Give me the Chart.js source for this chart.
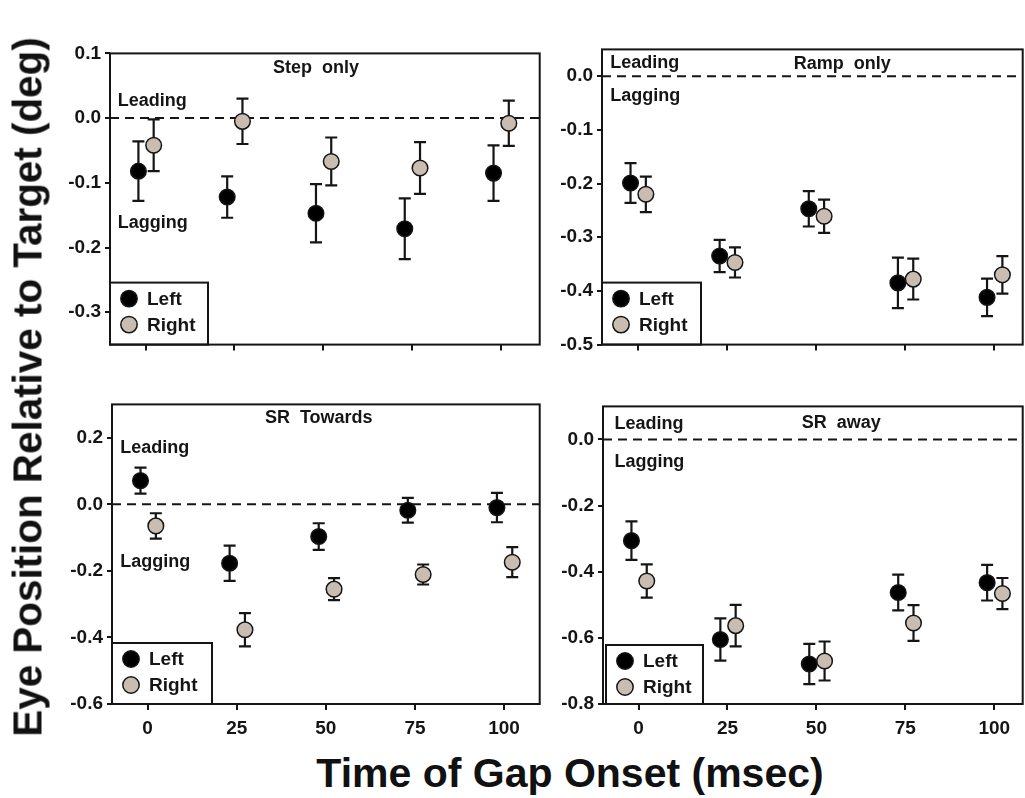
<!DOCTYPE html>
<html>
<head>
<meta charset="utf-8">
<title>Eye position relative to target</title>
<script src="https://cdn.jsdelivr.net/npm/chart.js@4.4.0/dist/chart.umd.min.js"></script>
<style>
  html, body { margin: 0; padding: 0; background: #fff; overflow: hidden; }
  body { width: 1025px; height: 798px; position: relative; font-family: "Liberation Sans", Arial, sans-serif; }
  canvas { position: absolute; }
  .axis-title { position: absolute; font-weight: bold; font-size: 41px; line-height: 1; white-space: nowrap; color: #111; }
  #ytitle { left: 28px; top: 387px; transform: translate(-50%, -50%) rotate(-90deg) scaleX(0.985); }
  #xtitle { left: 570px; top: 773px; transform: translate(-50%, -50%); }
</style>
</head>
<body>
<canvas id="stepChart"></canvas>
<canvas id="rampChart"></canvas>
<canvas id="towardsChart"></canvas>
<canvas id="awayChart"></canvas>
<div class="axis-title" id="ytitle">Eye Position Relative to Target (deg)</div>
<div class="axis-title" id="xtitle">Time of Gap Onset (msec)</div>
<script>
// gap onset times (msec) and tick labels
const gapTimes = [0, 25, 50, 75, 100];
const xTickValues = [0, 25, 50, 75, 100];

// Step only
const stepLeft = [-0.082, -0.122, -0.147, -0.171, -0.085];
const stepLeftErr = [0.046, 0.032, 0.045, 0.047, 0.043];
const stepRight = [-0.042, -0.005, -0.067, -0.077, -0.008];
const stepRightErr = [0.040, 0.035, 0.037, 0.040, 0.035];

// Ramp only
const rampLeft = [-0.199, -0.335, -0.247, -0.385, -0.412];
const rampLeftErr = [0.037, 0.030, 0.033, 0.047, 0.035];
const rampRight = [-0.220, -0.347, -0.261, -0.378, -0.370];
const rampRightErr = [0.033, 0.028, 0.031, 0.038, 0.035];

// SR towards
const towardsLeft = [0.071, -0.177, -0.097, -0.018, -0.010];
const towardsLeftErr = [0.039, 0.053, 0.040, 0.037, 0.044];
const towardsRight = [-0.065, -0.377, -0.255, -0.211, -0.174];
const towardsRightErr = [0.038, 0.050, 0.033, 0.030, 0.045];

// SR away
const awayLeft = [-0.306, -0.605, -0.679, -0.463, -0.433];
const awayLeftErr = [0.058, 0.064, 0.061, 0.054, 0.054];
const awayRight = [-0.428, -0.563, -0.670, -0.555, -0.466];
const awayRightErr = [0.050, 0.063, 0.059, 0.054, 0.047];

// y tick labels per panel
const stepTicks = [0.1, 0, -0.1, -0.2, -0.3];
const rampTicks = [0, -0.1, -0.2, -0.3, -0.4, -0.5];
const towardsTicks = [0.2, 0, -0.2, -0.4, -0.6];
const awayTicks = [0, -0.2, -0.4, -0.6, -0.8];

const FONT = '"Liberation Sans", Arial, sans-serif';
const INK = '#151515';
const TAN = '#c9bdb2';

// small horizontal shift so the two eyes don't sit on top of each other
const shiftLeft = -2, shiftRight = 2.3;

// vertical error bars with caps, drawn under the markers
const errorBars = {
  id: 'errorBars',
  beforeDatasetsDraw(chart) {
    const ctx = chart.ctx, ys = chart.scales.y;
    ctx.save();
    ctx.strokeStyle = INK;
    ctx.lineWidth = 2.2;
    chart.data.datasets.forEach((ds, i) => {
      chart.getDatasetMeta(i).data.forEach((pt, j) => {
        const v = ds.data[j].y, e = ds.errors[j];
        const top = ys.getPixelForValue(v + e), bot = ys.getPixelForValue(v - e);
        ctx.beginPath();
        ctx.moveTo(pt.x, top); ctx.lineTo(pt.x, bot);
        ctx.moveTo(pt.x - 6, top); ctx.lineTo(pt.x + 6, top);
        ctx.moveTo(pt.x - 6, bot); ctx.lineTo(pt.x + 6, bot);
        ctx.stroke();
      });
    });
    ctx.restore();
  }
};

// zero line, frame, panel title, Leading/Lagging notes and the boxed legend
const panelDecor = {
  id: 'panelDecor',
  beforeDatasetsDraw(chart) {
    const ctx = chart.ctx, a = chart.chartArea;
    const y0 = chart.scales.y.getPixelForValue(0);
    ctx.save();
    ctx.strokeStyle = INK;
    ctx.lineWidth = 2;
    ctx.setLineDash([9, 6]);
    ctx.beginPath();
    ctx.moveTo(a.left, y0); ctx.lineTo(a.right, y0);
    ctx.stroke();
    ctx.restore();
  },
  afterDraw(chart, args, o) {
    const ctx = chart.ctx, a = chart.chartArea;
    const xs = chart.scales.x, ys = chart.scales.y;
    ctx.save();
    ctx.fillStyle = INK;
    ctx.textBaseline = 'middle';
    ctx.font = 'bold 18px ' + FONT;
    ctx.textAlign = 'center';
    ctx.fillText(o.title, xs.getPixelForValue(o.titleX), ys.getPixelForValue(o.titleY));
    ctx.textAlign = 'left';
    ctx.fillText('Leading', xs.getPixelForValue(o.noteX), ys.getPixelForValue(o.leadY));
    ctx.fillText('Lagging', xs.getPixelForValue(o.noteX), ys.getPixelForValue(o.lagY));

    // legend box in the lower left corner
    const bx = a.left + o.legendDx, bw = o.legendW, bh = o.legendH, by = a.bottom - bh;
    ctx.fillStyle = '#fff';
    ctx.fillRect(bx, by, bw, bh);
    ctx.strokeStyle = INK;
    ctx.lineWidth = 2;
    ctx.strokeRect(bx, by, bw, bh);
    ctx.font = 'bold 19px ' + FONT;
    chart.data.datasets.forEach((ds, i) => {
      const cy = by + 16 + i * 26;
      ctx.beginPath();
      ctx.arc(bx + 19, cy, 8.2, 0, Math.PI * 2);
      ctx.fillStyle = ds.pointBackgroundColor;
      ctx.fill();
      ctx.lineWidth = 1.5;
      ctx.strokeStyle = ds.pointBorderColor;
      ctx.stroke();
      ctx.fillStyle = INK;
      ctx.fillText(ds.label, bx + 37, cy + 1);
    });

    // frame
    ctx.strokeStyle = INK;
    ctx.lineWidth = 2;
    ctx.strokeRect(a.left, a.top, a.right - a.left, a.bottom - a.top);
    ctx.restore();
  }
};

function makeSeries(label, values, errs, shift, fill, order) {
  return {
    label: label,
    data: gapTimes.map((t, i) => ({ x: t + shift, y: values[i] })),
    errors: errs,
    order: order,
    showLine: false,
    pointRadius: 7.8,
    pointBackgroundColor: fill,
    pointBorderColor: INK,
    pointBorderWidth: 1.5
  };
}

function makePanel(id, box, cfg) {
  const el = document.getElementById(id);
  const padL = 62, padT = 14, padR = 8, xh = cfg.showX ? 40 : 10;
  el.width = box.right - box.left + padL + padR;
  el.height = box.bottom - box.top + padT + xh;
  el.style.left = (box.left - padL) + 'px';
  el.style.top = (box.top - padT) + 'px';

  const tickFont = { family: FONT, size: 19, weight: 'bold' };
  return new Chart(el, {
    type: 'scatter',
    data: {
      datasets: [
        makeSeries('Left', cfg.left, cfg.leftErr, shiftLeft, '#000', 1),
        makeSeries('Right', cfg.right, cfg.rightErr, shiftRight, TAN, 0)
      ]
    },
    options: {
      responsive: false,
      animation: false,
      events: [],
      layout: { padding: { left: 0, top: padT, right: padR, bottom: 0 } },
      plugins: {
        legend: { display: false },
        tooltip: { enabled: false },
        panelDecor: cfg.decor
      },
      scales: {
        x: {
          type: 'linear',
          min: -10,
          max: cfg.xMax,
          afterBuildTicks: s => { s.ticks = xTickValues.map(v => ({ value: v })); },
          afterFit: s => { s.height = xh; },
          border: { display: false },
          grid: { drawOnChartArea: false, tickLength: 6, color: INK, tickColor: INK, lineWidth: 2 },
          ticks: { display: cfg.showX, padding: 7, color: INK, font: tickFont, maxRotation: 0 }
        },
        y: {
          type: 'linear',
          min: cfg.yMin,
          max: cfg.yMax,
          afterBuildTicks: s => { s.ticks = cfg.yTicks.map(v => ({ value: v })); },
          afterFit: s => { s.width = padL; },
          border: { display: false },
          grid: { drawOnChartArea: false, tickLength: 5, color: INK, tickColor: INK, lineWidth: 2 },
          ticks: { padding: 4, color: INK, font: tickFont, callback: v => v.toFixed(1) }
        }
      }
    },
    plugins: [errorBars, panelDecor]
  });
}

makePanel('stepChart', { left: 110, top: 52, right: 541, bottom: 350 }, {
  left: stepLeft, leftErr: stepLeftErr, right: stepRight, rightErr: stepRightErr,
  yMin: -0.35, yMax: 0.1, yTicks: stepTicks, xMax: 111, showX: false,
  decor: { title: 'Step  only', titleX: 48, titleY: 0.077, noteX: -7.8, leadY: 0.026, lagY: -0.162,
           legendDx: 0, legendW: 98, legendH: 62 }
});

makePanel('rampChart', { left: 602, top: 48, right: 1024, bottom: 350 }, {
  left: rampLeft, leftErr: rampLeftErr, right: rampRight, rightErr: rampRightErr,
  yMin: -0.5, yMax: 0.05, yTicks: rampTicks, xMax: 108, showX: false,
  decor: { title: 'Ramp  only', titleX: 57.4, titleY: 0.0225, noteX: -7.7, leadY: 0.024, lagY: -0.037,
           legendDx: 0, legendW: 99, legendH: 62 }
});

makePanel('towardsChart', { left: 112, top: 403, right: 541, bottom: 704 }, {
  left: towardsLeft, leftErr: towardsLeftErr, right: towardsRight, rightErr: towardsRightErr,
  yMin: -0.6, yMax: 0.3, yTicks: towardsTicks, xMax: 110, showX: true,
  decor: { title: 'SR  Towards', titleX: 48, titleY: 0.258, noteX: -7.7, leadY: 0.168, lagY: -0.174,
           legendDx: 0, legendW: 100, legendH: 61 }
});

makePanel('awayChart', { left: 603, top: 405, right: 1024, bottom: 704 }, {
  left: awayLeft, leftErr: awayLeftErr, right: awayRight, rightErr: awayRightErr,
  yMin: -0.8, yMax: 0.1, yTicks: awayTicks, xMax: 108, showX: true,
  decor: { title: 'SR  away', titleX: 57, titleY: 0.05, noteX: -6.8, leadY: 0.047, lagY: -0.067,
           legendDx: 3, legendW: 97, legendH: 59 }
});
</script>
</body>
</html>
